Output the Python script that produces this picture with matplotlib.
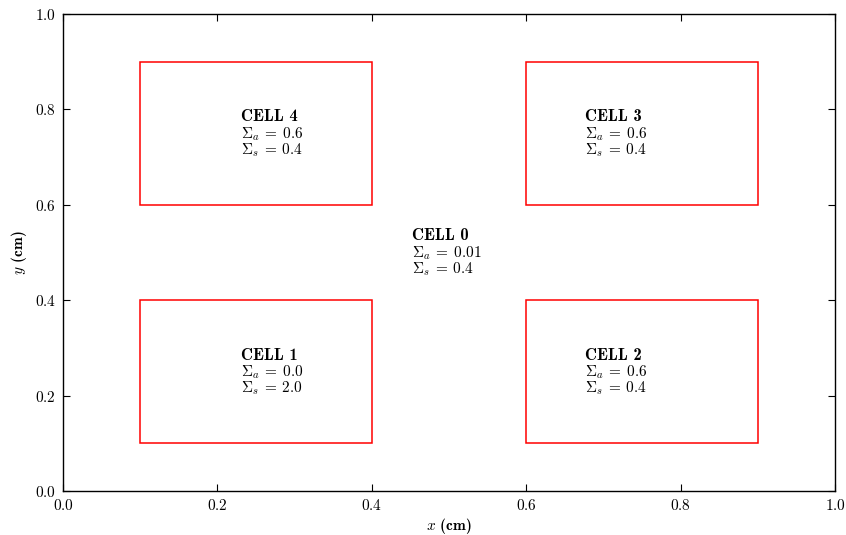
import matplotlib
matplotlib.use("Agg")
import matplotlib.pyplot as plt
from matplotlib.patches import Rectangle
from matplotlib.ticker import FuncFormatter

plt.rcParams['mathtext.fontset'] = 'cm'
plt.rcParams['font.family'] = 'DejaVu Serif'
plt.rcParams['axes.unicode_minus'] = False

cell_names = ["CELL 0", "CELL 1", "CELL 2", "CELL 3", "CELL 4"]
sigma_a = ["0.01", "0.0", "0.6", "0.6", "0.6"]
sigma_s = ["0.4", "2.0", "0.4", "0.4", "0.4"]
# rectangles (x0, y0, x1, y1) for cells 1..4
rect_x0 = [0.1, 0.6, 0.6, 0.1]
rect_y0 = [0.1, 0.1, 0.6, 0.6]
rect_x1 = [0.4, 0.9, 0.9, 0.4]
rect_y1 = [0.4, 0.4, 0.9, 0.9]
# label anchor positions for cells 0..4
label_x = [0.452, 0.2306, 0.676, 0.676, 0.2306]
label_y = [0.50, 0.25, 0.25, 0.75, 0.75]

FS = 11

fig = plt.figure(figsize=(8.46, 5.35), dpi=100)
ax = fig.add_axes([63/846, 1 - 491/535, 772/846, 477/535])

for x0, y0, x1, y1 in zip(rect_x0, rect_y0, rect_x1, rect_y1):
    ax.add_patch(Rectangle((x0, y0), x1 - x0, y1 - y0, fill=False,
                           edgecolor='red', linewidth=1.1))

offsets = [8.8, -3.4, -14.9]
for name, sa, ss, lx, ly in zip(cell_names, sigma_a, sigma_s, label_x, label_y):
    lines = [name,
             r"$\Sigma_a\:=\:" + sa + "$",
             r"$\Sigma_s\:=\:" + ss + "$"]
    for i, (line, off) in enumerate(zip(lines, offsets)):
        kw = dict(family='cmb10', fontsize=12) if i == 0 else dict(fontsize=FS)
        ax.annotate(line, (lx, ly), xytext=(0, off), textcoords='offset points',
                    ha='left', va='baseline', **kw)

ax.set_xlim(0, 1)
ax.set_ylim(0, 1)
ticks = [0.0, 0.2, 0.4, 0.6, 0.8, 1.0]
ax.set_xticks(ticks)
ax.set_yticks(ticks)
fmt = FuncFormatter(lambda v, p: r"$%.1f$" % v)
ax.xaxis.set_major_formatter(fmt)
ax.yaxis.set_major_formatter(fmt)
ax.tick_params(direction='in', top=True, right=True, length=5, width=0.8,
               labelsize=FS, pad=5)
ax.set_xlabel(r"$x$ (cm)", fontsize=FS, labelpad=2)
ax.set_ylabel(r"$y$ (cm)", fontsize=FS, labelpad=4)
for lab in (ax.xaxis.label, ax.yaxis.label):
    lab.set_family('cmb10')
for s in ax.spines.values():
    s.set_linewidth(1.0)

fig.savefig("out.png", dpi=100)
